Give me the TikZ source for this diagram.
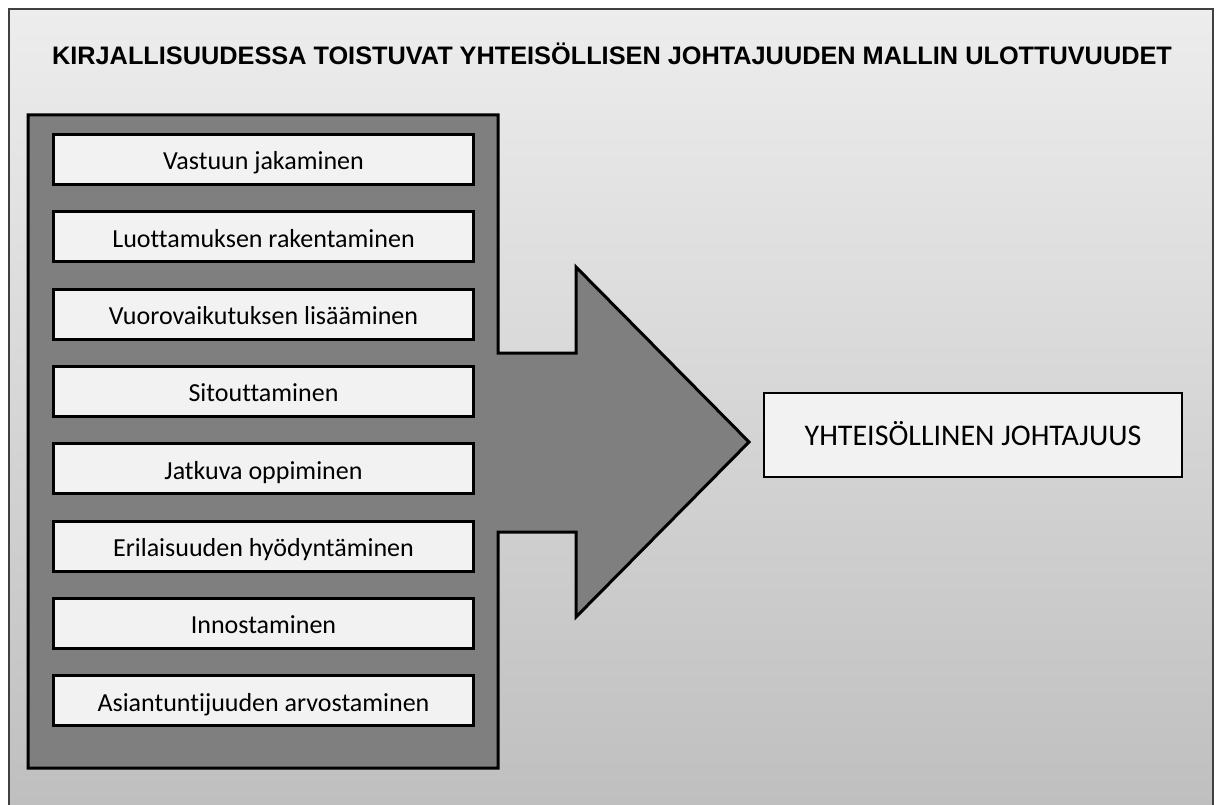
\documentclass[tikz,border=0pt]{standalone}
\usepackage{fontspec}
\setmainfont{Carlito}[Ligatures=CommonOff]
\newfontfamily\titlefont{Liberation Sans}
\definecolor{ModelTop}{HTML}{EDEDED}
\definecolor{ModelBottom}{HTML}{BDBDBD}
\definecolor{ModelFrame}{HTML}{404040}
\definecolor{ModelPanel}{HTML}{7F7F7F}
\definecolor{ModelBox}{HTML}{F2F2F2}
\usetikzlibrary{arrows.meta, positioning}

\tikzset{
   dimbox/.style={draw=black, line width=3pt, fill=ModelBox, inner sep=0pt,
      minimum width=420pt, minimum height=50pt, text height=21pt, text depth=0pt,
      font=\fontsize{26}{30}\selectfont},
   resultbox/.style={draw=black, line width=2pt, fill=ModelBox, inner sep=0pt,
      minimum width=418pt, minimum height=84pt, text height=20pt, text depth=0pt,
      font=\fontsize{30}{36}\selectfont}
}

\begin{document}
\begin{tikzpicture}[x=1pt, y=-1pt]
      \useasboundingbox (0,0) rectangle (1221,805);
      \clip (0,0) rectangle (1221,805);
      % Frame
      \draw[ModelFrame, line width=2pt, top color=ModelTop, bottom color=ModelBottom]
         (9,9) rectangle (1213,840);
      % Title
      \node[font=\titlefont\bfseries\fontsize{25.3}{30}\selectfont, anchor=base] (title)
         at (612,65) {KIRJALLISUUDESSA TOISTUVAT YHTEISÖLLISEN JOHTAJUUDEN MALLIN ULOTTUVUUDET};
      % Panel with the arrow
      \draw[line width=3pt, fill=ModelPanel, line join=miter]
         (28,115) -- (498,115) -- (498,353) -- (576,353) -- (576,267) -- (749,442)
         -- (576,617) -- (576,532) -- (498,532) -- (498,768) -- (28,768) -- cycle;
      % Dimensions
      \foreach \dimtext [count=\i] in {Vastuun jakaminen, Luottamuksen rakentaminen,
            Vuorovaikutuksen lisääminen, Sitouttaminen, Jatkuva oppiminen,
            Erilaisuuden hyödyntäminen, Innostaminen, Asiantuntijuuden arvostaminen}
         \node[dimbox] (dim\i) at (263.5,{159.5+77.3*(\i-1)}) {\dimtext};
      % Result
      \node[resultbox] (result) at (973,435) {YHTEISÖLLINEN JOHTAJUUS};
   \end{tikzpicture}
\end{document}
